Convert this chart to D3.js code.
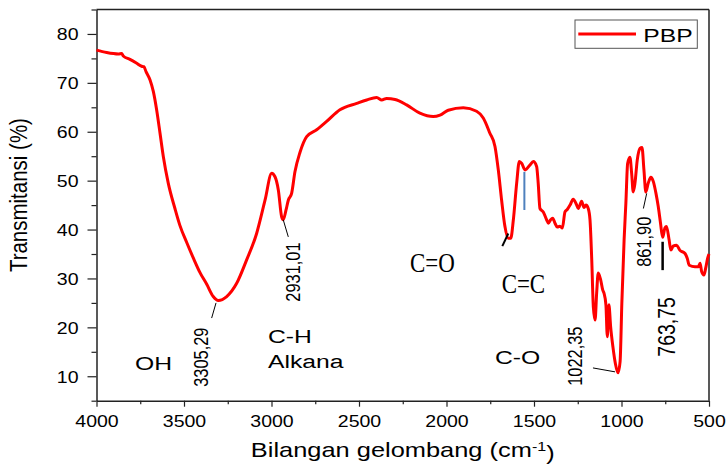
<!DOCTYPE html>
<html>
<head>
<meta charset="utf-8">
<script src="https://cdn.jsdelivr.net/npm/d3@7"></script>
<style>
  body { margin: 0; background: #fff; }
  text { font-family: "Liberation Sans", Arial, sans-serif; fill: #000; }
</style>
</head>
<body>
<div id="vis"></div>
<script>
// spectrum (cm-1, %T)
const wavenumber = [4000, 3942, 3875, 3856, 3847, 3809, 3770, 3742, 3729, 3717, 3694, 3675, 3656, 3637, 3618, 3590, 3551, 3523, 3485, 3447,
  3410, 3370, 3333, 3304, 3256, 3199, 3142, 3085, 3037, 2999, 2980, 2961, 2942, 2933, 2917, 2904, 2885, 2866, 2837, 2799,
  2742, 2685, 2609, 2513, 2456, 2399, 2370, 2342, 2294, 2228, 2152, 2076, 2037, 1990, 1904, 1828, 1790, 1752, 1723, 1704,
  1685, 1666, 1647, 1633, 1618, 1599, 1584, 1570, 1551, 1523, 1504, 1485, 1476, 1466, 1447, 1428, 1418, 1405, 1393, 1380,
  1367, 1352, 1338, 1323, 1310, 1294, 1276, 1256, 1247, 1228, 1214, 1203, 1190, 1180, 1170, 1161, 1151, 1142, 1133, 1119,
  1107, 1100, 1089, 1081, 1072, 1062, 1049, 1035, 1020, 1008, 998, 985, 975, 965, 952, 942, 933, 923, 910, 894,
  883, 872, 861, 847, 832, 818, 803, 790, 777, 765, 752, 743, 728, 718, 705, 685, 667, 637, 624, 613,
  580, 561, 551, 542, 529, 519, 508, 500];
const transmittance = [76.7, 76.2, 75.9, 76.0, 75.5, 74.8, 74.0, 73.4, 73.3, 72.3, 70.6, 68.2, 64.4, 59.7, 54.9, 49.5, 44.2, 40.8, 37.4, 34.2,
  31.3, 28.8, 26.3, 25.5, 26.3, 29.0, 33.8, 39.2, 46.0, 51.5, 50.8, 48.1, 42.6, 42.0, 44.0, 46.0, 47.4, 51.8, 55.8, 59.0,
  60.4, 62.1, 64.5, 65.8, 66.5, 67.0, 66.5, 66.8, 66.6, 65.5, 63.8, 63.1, 63.4, 64.4, 64.9, 64.2, 62.8, 59.7, 57.0, 52.2,
  46.0, 40.6, 38.2, 38.2, 42.0, 49.5, 53.9, 53.5, 52.2, 53.2, 53.9, 52.9, 49.5, 44.3, 43.6, 42.0, 41.3, 42.0, 42.3, 41.3,
  40.5, 40.7, 40.3, 43.6, 44.1, 45.0, 46.2, 45.0, 44.3, 45.8, 44.5, 45.0, 44.3, 42.0, 33.8, 24.2, 21.5, 27.0, 31.1, 29.7,
  27.6, 27.0, 24.6, 18.1, 24.6, 20.1, 16.0, 12.6, 10.7, 13.0, 25.0, 38.0, 45.4, 53.5, 54.8, 51.5, 47.7, 49.5, 54.2, 56.6,
  56.8, 52.3, 47.7, 49.5, 50.7, 49.8, 47.4, 44.7, 41.3, 38.4, 40.3, 40.6, 37.9, 35.8, 36.6, 36.8, 35.8, 35.1, 34.1, 32.7,
  32.4, 32.4, 33.1, 31.4, 30.7, 32.1, 34.1, 35.0];

const xTicks = [4000, 3500, 3000, 2500, 2000, 1500, 1000, 500];
const xMinor = [3750, 3250, 2750, 2250, 1750, 1250, 750];
const yTicks = [10, 20, 30, 40, 50, 60, 70, 80];
const yMinor = [5, 15, 25, 35, 45, 55, 65, 75, 85];

// peak labels: text, wavenumber, %T (centre), font size
const peakText = ["3305,29", "2931,01", "1022,35", "861,90", "763,75"];
const peakWn   = [3406, 2875, 1266, 874, 740];
const peakT    = [13.9, 31.3, 14.1, 37.5, 20.1];
const peakSize = [16.4, 16.4, 16.4, 16.4, 19.5];

// leader lines [wn1, T1, wn2, T2, width, colour]
const leaders = [
  [3317, 25.0, 3342, 21.9, 1, "#000"],
  [2933, 42.0, 2904, 38.5, 1, "#000"],
  [1163, 11.7, 1037, 10.9, 1, "#000"],
  [856, 47.4, 875, 44.3, 1, "#000"],
  [1681, 36.6, 1647, 39.2, 2, "#000"],
  [765, 37.5, 765, 31.7, 2.5, "#000"],
  [1555, 51.8, 1555, 44.0, 2, "#4f81bd"]
];

// group labels: text, wavenumber (left), %T (baseline)
const groupText = ["OH", "C-H", "Alkana", "C-O"];
const groupWn   = [3780, 3020, 3020, 1723];
const groupT    = [11.3, 16.8, 11.7, 12.6];
const bondText  = ["C=O", "C=C"];
const bondWn    = [2209, 1685];
const bondT     = [31.4, 27.0];

const W = 728, H = 465;
const plot = { left: 96.5, right: 709, top: 9.5, bottom: 400.7 };
const SX = 1.22;

const x = d3.scaleLinear().domain([4000, 500]).range([plot.left, plot.right]);
const y = d3.scaleLinear().domain([5, 85]).range([plot.bottom, plot.top]);

const svg = d3.select("#vis").append("svg")
  .attr("width", W)
  .attr("height", H)
  .style("display", "block");

// frame
svg.append("line").attr("x1", plot.left).attr("x2", plot.right).attr("y1", plot.top).attr("y2", plot.top)
  .attr("stroke", "#222").attr("stroke-width", 1.5);
svg.append("line").attr("x1", plot.right).attr("x2", plot.right).attr("y1", plot.top).attr("y2", plot.bottom)
  .attr("stroke", "#222").attr("stroke-width", 1.5);

// x axis
const gx = svg.append("g").attr("transform", `translate(0,${plot.bottom})`)
  .call(d3.axisBottom(x).tickValues(xTicks).tickSize(6).tickSizeOuter(0).tickFormat(d3.format("d")));
svg.append("g").attr("transform", `translate(0,${plot.bottom})`)
  .call(d3.axisBottom(x).tickValues(xMinor).tickSize(3.5).tickSizeOuter(0).tickFormat(""))
  .call(g => g.select(".domain").remove());
gx.selectAll("text")
  .attr("y", 0).attr("dy", 0)
  .attr("transform", `translate(0,26) scale(${SX},1)`)
  .style("font-size", "16px");

// y axis
const gy = svg.append("g").attr("transform", `translate(${plot.left},0)`)
  .call(d3.axisLeft(y).tickValues(yTicks).tickSize(9).tickSizeOuter(0));
svg.append("g").attr("transform", `translate(${plot.left},0)`)
  .call(d3.axisLeft(y).tickValues(yMinor).tickSize(5).tickSizeOuter(0).tickFormat(""))
  .call(g => g.select(".domain").remove());
gy.selectAll("text")
  .attr("x", 0).attr("dy", "0.36em")
  .attr("transform", `translate(-18,0) scale(${SX},1)`)
  .style("font-size", "16px");

svg.selectAll(".domain").attr("stroke", "#222").attr("stroke-width", 1.5);
svg.selectAll(".tick line").attr("stroke", "#222").attr("stroke-width", 1.2);

// axis titles
const xt = svg.append("text")
  .attr("transform", `translate(${(plot.left + plot.right) / 2},456.7) scale(1.24,1)`)
  .attr("text-anchor", "middle")
  .style("font-size", "20.5px");
xt.append("tspan").text("Bilangan gelombang (cm");
xt.append("tspan").attr("dy", "-0.45em").style("font-size", "13px").text("-1");
xt.append("tspan").attr("dy", "0.45em").text(")");

svg.append("text")
  .attr("transform", `translate(26.7,${(plot.top + plot.bottom) / 2 - 10}) rotate(-90) scale(1,1.2)`)
  .attr("text-anchor", "middle")
  .style("font-size", "20.5px")
  .text("Transmitansi (%)");

// spectrum
const line = d3.line()
  .x((d, i) => x(wavenumber[i]))
  .y((d, i) => y(transmittance[i]))
  .curve(d3.curveMonotoneX);

svg.append("path")
  .datum(wavenumber)
  .attr("fill", "none")
  .attr("stroke", "#ff0000")
  .attr("stroke-width", 3)
  .attr("stroke-linejoin", "round")
  .attr("d", line);

// leader lines
svg.append("g").selectAll("line")
  .data(leaders)
  .join("line")
    .attr("x1", d => x(d[0])).attr("y1", d => y(d[1]))
    .attr("x2", d => x(d[2])).attr("y2", d => y(d[3]))
    .attr("stroke", d => d[5])
    .attr("stroke-width", d => d[4]);

// peak labels (rotated)
svg.append("g").selectAll("text")
  .data(peakText)
  .join("text")
    .attr("transform", (d, i) => `translate(${x(peakWn[i])},${y(peakT[i])}) rotate(-90) scale(1,1.2)`)
    .attr("text-anchor", "middle")
    .attr("dy", "0.36em")
    .style("font-size", (d, i) => peakSize[i] + "px")
    .text(d => d);

// functional group labels
svg.append("g").selectAll("text")
  .data(groupText)
  .join("text")
    .attr("transform", (d, i) => `translate(${x(groupWn[i])},${y(groupT[i])}) scale(1.3,1)`)
    .style("font-size", "19px")
    .text(d => d);

svg.append("g").selectAll("text")
  .data(bondText)
  .join("text")
    .attr("transform", (d, i) => `translate(${x(bondWn[i])},${y(bondT[i])}) scale(0.85,1)`)
    .style("font-family", "'Liberation Serif', 'DejaVu Serif', serif")
    .style("font-size", "27px")
    .text(d => d);

// legend
const legend = svg.append("g").attr("transform", "translate(575,20)");
legend.append("rect")
  .attr("width", 122.3).attr("height", 28.3)
  .attr("fill", "#fff").attr("stroke", "#555").attr("stroke-width", 1);
legend.append("line")
  .attr("x1", 3.3).attr("x2", 61).attr("y1", 14).attr("y2", 14)
  .attr("stroke", "#ff0000").attr("stroke-width", 3);
legend.append("text")
  .attr("transform", "translate(68.3,21.7) scale(1.3,1)")
  .style("font-size", "19px")
  .text("PBP");
</script>
</body>
</html>
